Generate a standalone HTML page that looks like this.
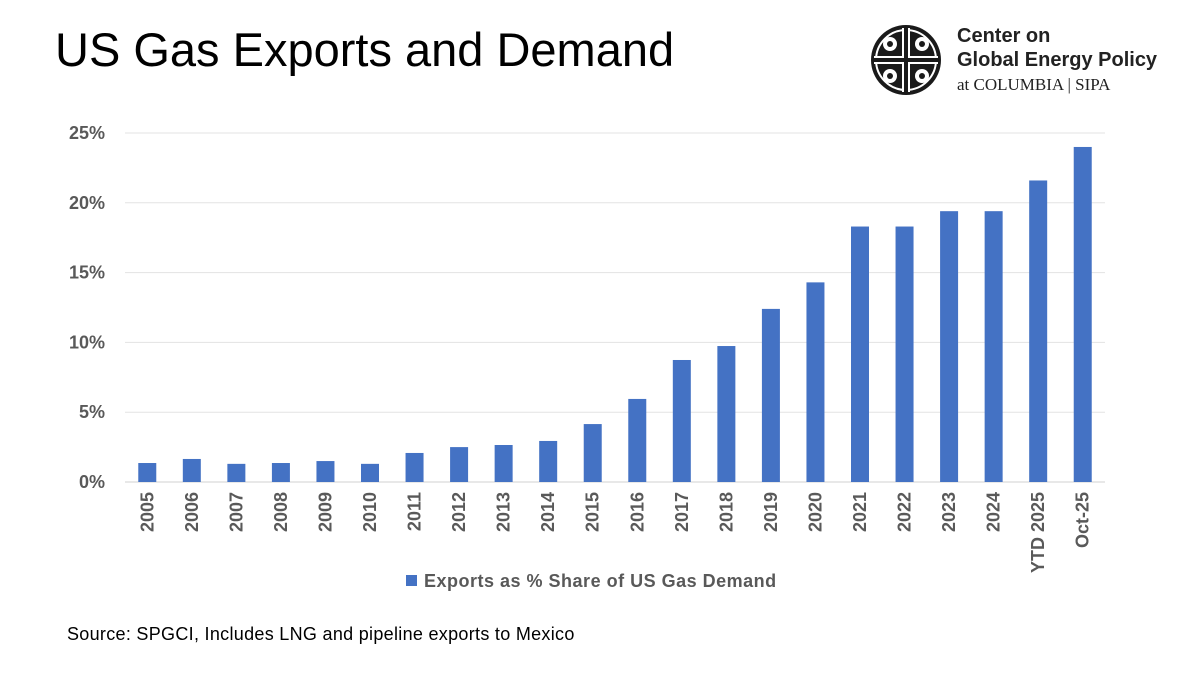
<!DOCTYPE html>
<html><head><meta charset="utf-8"><style>
body{margin:0;width:1200px;height:675px;background:#fff;position:relative;overflow:hidden;font-family:"Liberation Sans",sans-serif}
#title{position:absolute;left:55px;top:22px;font-size:47px;color:#000;font-family:"Liberation Sans",sans-serif;letter-spacing:0px}
#logo-text{position:absolute;left:957px;top:24px;font-size:20px;font-weight:bold;color:#222;line-height:24px}
#logo-sub{font-family:"Liberation Serif",serif;font-weight:normal;font-size:17px;line-height:22px}
#source{position:absolute;left:67px;top:624px;font-size:18px;color:#000;letter-spacing:0.3px}
</style></head><body>
<div id="title">US Gas Exports and Demand</div>
<svg style="position:absolute;left:868px;top:22px" width="76" height="76">
<circle cx="38" cy="38" r="35" fill="#1a1a1a"/>
<circle cx="38" cy="38" r="30" fill="none" stroke="#fff" stroke-width="2"/>
<rect x="34" y="6" width="8" height="64" fill="#fff"/><rect x="6" y="34" width="64" height="8" fill="#fff"/>
<rect x="36" y="6" width="4" height="64" fill="#1a1a1a"/><rect x="6" y="36" width="64" height="4" fill="#1a1a1a"/>
<circle cx="22" cy="22" r="7" fill="#fff"/><circle cx="54" cy="22" r="7" fill="#fff"/><circle cx="22" cy="54" r="7" fill="#fff"/><circle cx="54" cy="54" r="7" fill="#fff"/>
<circle cx="22" cy="22" r="3" fill="#1a1a1a"/><circle cx="54" cy="22" r="3" fill="#1a1a1a"/><circle cx="22" cy="54" r="3" fill="#1a1a1a"/><circle cx="54" cy="54" r="3" fill="#1a1a1a"/>
</svg>
<div id="logo-text">Center on<br>Global Energy Policy<br><span id="logo-sub">at COLUMBIA | SIPA</span></div>
<svg id="chart" width="1200" height="675" style="position:absolute;left:0;top:0"></svg>
<div id="source">Source: SPGCI, Includes LNG and pipeline exports to Mexico</div>
<script>
const categories=["2005","2006","2007","2008","2009","2010","2011","2012","2013","2014","2015","2016","2017","2018","2019","2020","2021","2022","2023","2024","YTD 2025","Oct-25"];
const values=[1.36,1.65,1.3,1.36,1.5,1.3,2.08,2.5,2.65,2.94,4.15,5.95,8.74,9.74,12.4,14.3,18.3,18.3,19.4,19.4,21.6,24.0];
const yTicks=[0,5,10,15,20,25];
const NS="http://www.w3.org/2000/svg";
const svg=document.getElementById('chart');
const x0=125,x1=1105,yBase=482,yTop=133,yMax=25;
const step=(x1-x0)/categories.length;
const y=v=>yBase-(v/yMax)*(yBase-yTop);
const xc=i=>x0+step*(i+0.5);
function mk(t,a){const e=document.createElementNS(NS,t);for(const k in a)e.setAttribute(k,a[k]);svg.appendChild(e);return e;}
yTicks.forEach(t=>{
 const l=mk('line',{x1:x0,x2:x1,y1:y(t),y2:y(t),stroke:t===0?'#d0d0d0':'#e3e3e3','stroke-width':1});
 
 
 const tx=mk('text',{x:105,y:y(t)+6,'text-anchor':'end','font-size':18,'font-weight':'bold',fill:'#595959','font-family':'Liberation Sans, sans-serif'});
 tx.textContent=t+'%';
 
 
});
categories.forEach((c,i)=>{
 const bw=18;
 const r=mk('rect',{x:xc(i)-bw/2,y:y(values[i]),width:bw,height:yBase-y(values[i]),fill:'#4472c4'});
 
 
 const tx=mk('text',{x:0,y:0,'text-anchor':'end','font-size':18,'font-weight':'bold',fill:'#595959','font-family':'Liberation Sans, sans-serif',transform:`translate(${xc(i)+6},492) rotate(-90)`});
 tx.textContent=c;
 
 
});
const lr=mk('rect',{x:406,y:575,width:11,height:11,fill:'#4472c4'});


const lt=mk('text',{x:424,y:587,'font-size':18,'font-weight':'bold',fill:'#595959','font-family':'Liberation Sans, sans-serif','letter-spacing':0.5});
lt.textContent='Exports as % Share of US Gas Demand';


</script>
</body></html>
